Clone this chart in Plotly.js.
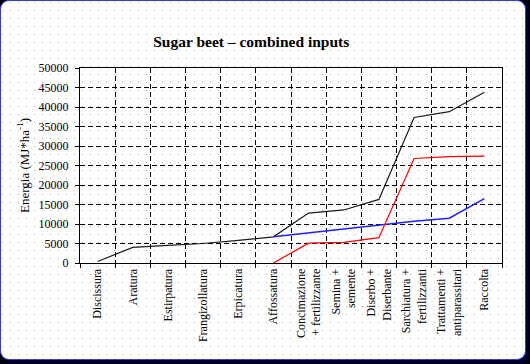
<!DOCTYPE html>
<html>
<head>
<meta charset="utf-8">
<script src="https://cdn.plot.ly/plotly-3.0.1.min.js"></script>
<style>
  html, body { margin: 0; padding: 0; background: #000010; width: 530px; height: 364px; overflow: hidden; }
  #frame {
    position: absolute; left: 0; top: 0; width: 524px; height: 358px;
    border: 1px solid #3a3ac8; border-radius: 9px;
    background-color: #ffffff;
    background-image: url("data:image/svg+xml;utf8,<svg xmlns='http://www.w3.org/2000/svg' width='8' height='8'><rect x='1' y='1' width='1' height='1' fill='%23b4b4b4'/></svg>");
    background-size: 8px 8px;
    box-shadow: 3px 3px 0 #000030;
  }
  #chart { position: absolute; left: 0; top: 0; width: 530px; height: 364px; }
</style>
</head>
<body>
<div id="frame"></div>
<div id="chart"></div>
<script>
const categories = ["Discissura", "Aratura", "Estirpatura", "Frangizollatura", "Erpicatura", "Affossatura",
  "Concimazione<br>+ fertilizzante", "Semina +<br>semente", "Diserbo +<br>Diserbante",
  "Sarchiatura +<br>fertilizzanti", "Trattamenti +<br>antiparassitari", "Raccolta"];
const totalValues = [400, 4000, 4500, 5000, 5800, 6700, 12800, 13600, 16300, 37300, 38800, 43800];
const blueValues  = [null, null, null, null, null, 6700, 7700, 8700, 9700, 10700, 11500, 16500];
const redValues   = [null, null, null, null, null, 0, 5100, 5300, 6500, 26800, 27300, 27400];
const yTickVals = [0, 5000, 10000, 15000, 20000, 25000, 30000, 35000, 40000, 45000, 50000];

const serif = "Liberation Serif, Times New Roman, serif";

const traces = [
  { x: categories, y: totalValues, type: "scatter", mode: "lines", line: { color: "#1a1a1a", width: 1.2 }, showlegend: false },
  { x: categories, y: blueValues, type: "scatter", mode: "lines", line: { color: "#2020ff", width: 1.5 }, showlegend: false },
  { x: categories, y: redValues, type: "scatter", mode: "lines", line: { color: "#ff0000", width: 1.2 }, showlegend: false }
];

const layout = {
  width: 530, height: 364,
  margin: { l: 80, r: 28, t: 68, b: 101 },
  paper_bgcolor: "rgba(0,0,0,0)",
  plot_bgcolor: "rgba(0,0,0,0)",
  font: { family: serif, size: 12, color: "#000" },
  title: { text: "<b>Sugar beet – combined inputs</b>", font: { family: serif, size: 15.5, color: "#000" },
           x: 0.474, xanchor: "center", y: 0.887, yanchor: "middle" },
  xaxis: {
    type: "category", tickson: "boundaries", tickangle: -90,
    showline: true, linecolor: "#000", linewidth: 1, mirror: true,
    ticks: "outside", ticklen: 4, tickcolor: "#000",
    showgrid: true, gridcolor: "#000", gridwidth: 1, griddash: "5px,3px",
    tickfont: { family: serif, size: 12, color: "#000" },
    range: [-0.5, 11.5], zeroline: false
  },
  yaxis: {
    range: [0, 50000], tickvals: yTickVals, tickformat: "d",
    showline: true, linecolor: "#000", linewidth: 1, mirror: true,
    ticks: "outside", ticklen: 4, tickcolor: "#000", ticklabelstandoff: 4,
    showgrid: true, gridcolor: "#000", gridwidth: 1, griddash: "5px,3px",
    zeroline: false,
    tickfont: { family: serif, size: 12, color: "#000" },
    title: { text: "Energia (MJ*ha<sup>-1</sup>)", font: { family: serif, size: 13, color: "#000" }, standoff: 6 }
  }
};

Plotly.newPlot("chart", traces, layout, { displayModeBar: false, staticPlot: true });
</script>
</body>
</html>
